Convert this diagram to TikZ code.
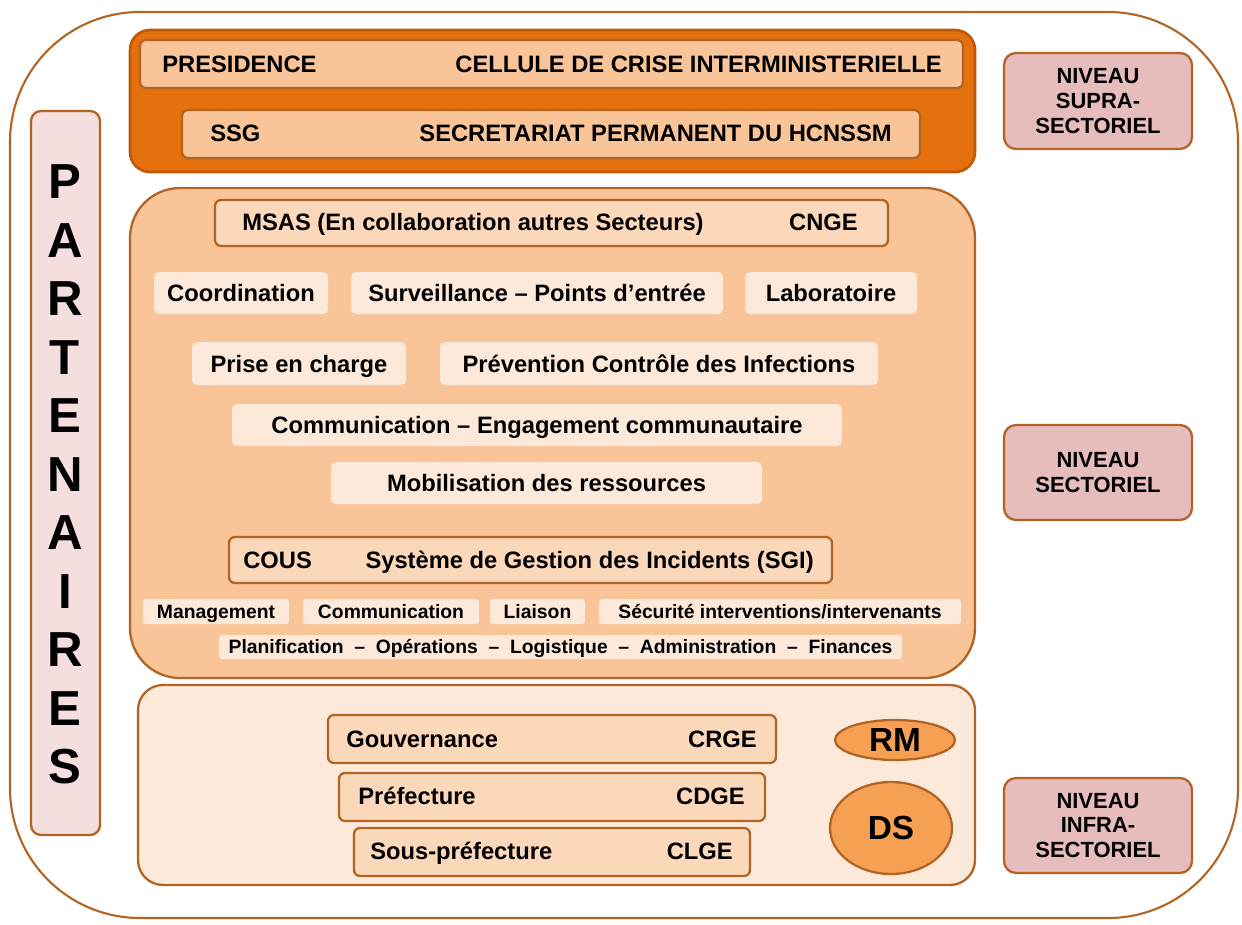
\documentclass[tikz,border=0pt]{standalone}
\usepackage{fontspec}
\setmainfont{Liberation Sans}
\usetikzlibrary{fit,shapes.geometric}
\definecolor{brd}{RGB}{178,100,36}
\definecolor{topfill}{RGB}{228,112,14}
\definecolor{topbrd}{RGB}{192,88,8}
\definecolor{midfill}{RGB}{249,196,152}
\definecolor{boxfill}{RGB}{251,216,186}
\definecolor{lite}{RGB}{253,233,218}
\definecolor{circfill}{RGB}{246,160,84}
\definecolor{nivfill}{RGB}{231,188,188}
\definecolor{partfill}{RGB}{244,223,222}
\begin{document}
\begin{tikzpicture}[x=0.02cm,y=-0.02cm,
  box/.style={draw=brd, line width=1.3pt, fill=boxfill, rounded corners=0.12cm, inner sep=0},
  softbox/.style={draw=none, fill=lite, rounded corners=0.1cm, inner sep=0},
  smallbox/.style={draw=none, fill=lite, rounded corners=0.06cm, inner sep=0},
  txt/.style={inner sep=0, text height=9.7pt, text depth=0pt, font=\bfseries\fontsize{13.5}{16}\selectfont},
  smalltxt/.style={inner sep=0, text height=7.9pt, text depth=0pt, font=\bfseries\fontsize{11}{13}\selectfont},
  niv/.style={draw=brd, line width=1.3pt, fill=nivfill, rounded corners=0.24cm, inner sep=0},
  nivtxt/.style={inner sep=0, align=center, font=\bfseries\fontsize{12.5}{14.2}\selectfont},
  letter/.style={inner sep=0, text height=20pt, text depth=0pt, font=\bfseries\fontsize{28}{30}\selectfont},
  circ/.style={ellipse, draw=brd, line width=1.3pt, fill=circfill, inner sep=0, font=\bfseries\fontsize{19}{22}\selectfont}]
\useasboundingbox (0,0) rectangle (1242,924);
% outer frame
\draw[brd, line width=1.2pt, fill=white, rounded corners=2.6cm] (10,12) rectangle (1238,918);
% partenaires
\node[draw=brd, line width=1.3pt, fill=partfill, rounded corners=0.2cm, inner sep=0, fit={(31,111) (100,835)}] (part) {};
\foreach \l/\yy [count=\i] in {P/181,A/239.5,R/298,T/356.5,E/415,N/473.5,A/532,I/590.5,R/649,E/707.5,S/766}
  \node[letter] (l\i) at (65,\yy) {\l};
% niveau boxes
\node[niv, fit={(1004,53) (1192,149)}] (nsupra) {};
\node[nivtxt] (nsuprat) at (nsupra.center) {NIVEAU\\SUPRA-\\SECTORIEL};
\node[niv, fit={(1004,425) (1192,520)}] (nsect) {};
\node[nivtxt] (nsectt) at (nsect.center) {NIVEAU\\SECTORIEL};
\node[niv, fit={(1004,778) (1192,873)}] (ninfra) {};
\node[nivtxt] (ninfrat) at (ninfra.center) {NIVEAU\\INFRA-\\SECTORIEL};
% top block
\node[draw=topbrd, line width=1.5pt, fill=topfill, rounded corners=0.4cm, inner sep=0, fit={(130,30) (975,172)}] (top) {};
\node[box, fill=midfill, fit={(140,40) (963,88)}] (pres) {};
\node[txt, anchor=west] (prest) at (162,64) {PRESIDENCE};
\node[txt, anchor=east] (cellt) at (942,64) {CELLULE DE CRISE INTERMINISTERIELLE};
\node[box, fill=midfill, fit={(182,110) (920,158)}] (ssg) {};
\node[txt, anchor=west] (ssgt) at (210,133) {SSG};
\node[txt, anchor=east] (sect) at (892,133) {SECRETARIAT PERMANENT DU HCNSSM};
% middle block
\node[draw=brd, line width=1.3pt, fill=midfill, rounded corners=1cm, inner sep=0, fit={(130,188) (975,678)}] (mid) {};
\node[box, fit={(215,200) (888,246)}] (msas) {};
\node[txt, anchor=west] (msast) at (242,222) {MSAS (En collaboration autres Secteurs)};
\node[txt, anchor=east] (cnget) at (858,222) {CNGE};
\node[softbox, fit={(154,272) (328,314)}] (coord) {};
\node[txt] (coordt) at (coord.center) {Coordination};
\node[softbox, fit={(351,272) (723,314)}] (surv) {};
\node[txt] (survt) at (surv.center) {Surveillance – Points d’entrée};
\node[softbox, fit={(745,272) (917,314)}] (labo) {};
\node[txt] (labot) at (labo.center) {Laboratoire};
\node[softbox, fit={(192,342) (406,385)}] (prise) {};
\node[txt] (priset) at (prise.center) {Prise en charge};
\node[softbox, fit={(440,342) (878,385)}] (prev) {};
\node[txt] (prevt) at (prev.center) {Prévention Contrôle des Infections};
\node[softbox, fit={(232,404) (842,446)}] (comm) {};
\node[txt] (commt) at (comm.center) {Communication – Engagement communautaire};
\node[softbox, fit={(331,462) (762,504)}] (mobil) {};
\node[txt] (mobilt) at (mobil.center) {Mobilisation des ressources};
\node[box, fit={(229,537) (832,583)}] (cous) {};
\node[txt, anchor=west] (coust) at (243,560) {COUS};
\node[txt, anchor=east] (sgit) at (814,560) {Système de Gestion des Incidents (SGI)};
\node[smallbox, fit={(143,599) (289,624)}] (manag) {};
\node[smalltxt] (managt) at (manag.center) {Management};
\node[smallbox, fit={(303,599) (479,624)}] (commb) {};
\node[smalltxt] (commbt) at (commb.center) {Communication};
\node[smallbox, fit={(490,599) (585,624)}] (liai) {};
\node[smalltxt] (liait) at (liai.center) {Liaison};
\node[smallbox, fit={(599,599) (961,624)}] (secu) {};
\node[smalltxt] (secut) at (secu.center) {Sécurité interventions/intervenants};
\node[smallbox, fit={(219,635) (902,659)}] (plan) {};
\node[smalltxt] (plant) at (plan.center) {Planification \ – \ Opérations \ – \ Logistique \ – \ Administration \ – \ Finances};
% bottom block
\node[draw=brd, line width=1.3pt, fill=lite, rounded corners=0.5cm, inner sep=0, fit={(138,685) (975,885)}] (bot) {};
\node[box, fit={(328,715) (776,763)}] (gouv) {};
\node[txt, anchor=west] (gouvt) at (346,739) {Gouvernance};
\node[txt, anchor=east] (crget) at (757,739) {CRGE};
\node[box, fit={(339,773) (765,821)}] (pref) {};
\node[txt, anchor=west] (preft) at (358,796) {Préfecture};
\node[txt, anchor=east] (cdget) at (745,796) {CDGE};
\node[box, fit={(354,828) (750,876)}] (spref) {};
\node[txt, anchor=west] (spreft) at (370,851) {Sous-préfecture};
\node[txt, anchor=east] (clget) at (733,851) {CLGE};
\node[circ, minimum width=2.4cm, minimum height=0.8cm] (rm) at (895,740) {RM};
\node[circ, minimum width=2.44cm, minimum height=1.84cm] (ds) at (891,828) {DS};
\end{tikzpicture}
\end{document}
